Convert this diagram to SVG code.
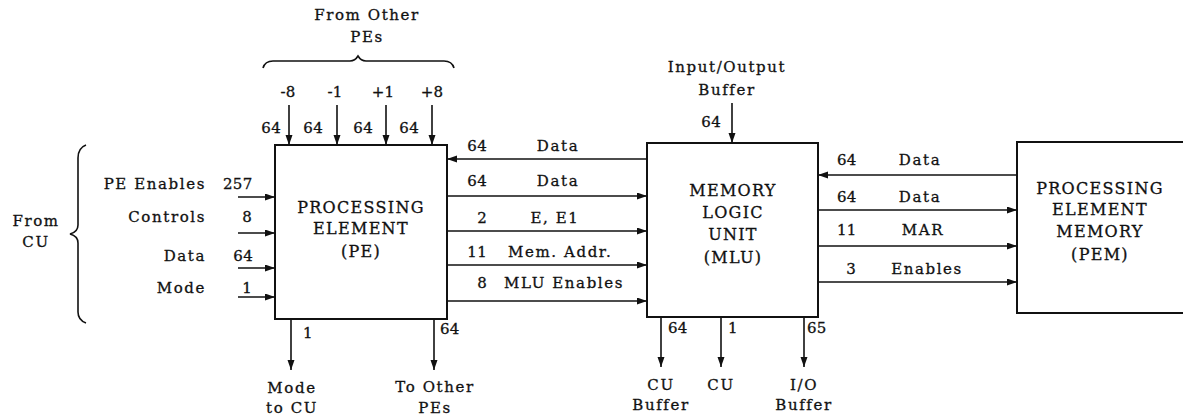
<svg xmlns="http://www.w3.org/2000/svg" width="1183" height="418" viewBox="0 0 1183 418">
<style>
text{font-family:"DejaVu Serif","Liberation Serif",serif;fill:#111;stroke:#111;stroke-width:0.3px;}
.t{font-size:15px;letter-spacing:1.6px;}
.n{font-size:15px;letter-spacing:0.3px;}
.b{font-size:16px;letter-spacing:1.3px;text-anchor:middle;}
.m{text-anchor:middle;}
.e{text-anchor:end;}
.box{fill:#fff;stroke:#111;stroke-width:2;}
.c{stroke:#111;stroke-width:1.6;fill:none;marker-end:url(#ah);}
.br{stroke:#111;stroke-width:1.6;fill:none;}
</style>
<defs>
<marker id="ah" markerUnits="userSpaceOnUse" markerWidth="11" markerHeight="8" refX="10" refY="3.5" orient="auto">
<path d="M0,0 L10,3.5 L0,7 z" fill="#111"/>
</marker>
</defs>
<rect width="1183" height="418" fill="#fff"/>

<g id="pe">
<rect class="box" x="275" y="145" width="172" height="174"/>
<text class="b" x="361" y="213">PROCESSING</text>
<text class="b" x="361" y="234">ELEMENT</text>
<text class="b" x="361" y="257">(PE)</text>
</g>

<g id="mlu">
<rect class="box" x="647" y="143" width="171" height="174"/>
<text class="b" x="733" y="196">MEMORY</text>
<text class="b" x="733" y="218">LOGIC</text>
<text class="b" x="733" y="240">UNIT</text>
<text class="b" x="733" y="263">(MLU)</text>
</g>

<g id="pem">
<rect class="box" x="1017" y="142" width="180" height="171"/>
<text class="b" x="1100" y="194">PROCESSING</text>
<text class="b" x="1100" y="215">ELEMENT</text>
<text class="b" x="1100" y="237">MEMORY</text>
<text class="b" x="1100" y="260">(PEM)</text>
</g>

<g id="braces">
<path class="br" d="M263,68 Q265,61 273,61 L350,61 Q355,61 358,56 Q361,61 366,61 L444,61 Q452,61 454,68"/>
<path class="br" d="M86,145 Q78,148 78,158 L78,225 Q78,232 70,234 Q78,236 78,243 L78,312 Q78,320 86,323"/>
</g>

<g id="connectors">
<line class="c" x1="289" y1="105" x2="289" y2="145"/>
<line class="c" x1="337" y1="105" x2="337" y2="145"/>
<line class="c" x1="386" y1="105" x2="386" y2="145"/>
<line class="c" x1="432" y1="105" x2="432" y2="145"/>
<line class="c" x1="732" y1="103" x2="732" y2="143"/>
<line class="c" x1="238" y1="197" x2="275" y2="197"/>
<line class="c" x1="238" y1="233" x2="275" y2="233"/>
<line class="c" x1="238" y1="268" x2="275" y2="268"/>
<line class="c" x1="238" y1="297" x2="275" y2="297"/>
<line class="c" x1="647" y1="159" x2="447" y2="159"/>
<line class="c" x1="447" y1="196" x2="647" y2="196"/>
<line class="c" x1="447" y1="231" x2="647" y2="231"/>
<line class="c" x1="447" y1="265" x2="647" y2="265"/>
<line class="c" x1="447" y1="301" x2="647" y2="301"/>
<line class="c" x1="1017" y1="175" x2="818" y2="175"/>
<line class="c" x1="818" y1="210" x2="1017" y2="210"/>
<line class="c" x1="818" y1="246" x2="1017" y2="246"/>
<line class="c" x1="818" y1="282" x2="1017" y2="282"/>
<line class="c" x1="291" y1="319" x2="291" y2="370"/>
<line class="c" x1="434" y1="319" x2="434" y2="370"/>
<line class="c" x1="661" y1="317" x2="661" y2="367"/>
<line class="c" x1="721" y1="317" x2="721" y2="367"/>
<line class="c" x1="804" y1="317" x2="804" y2="367"/>
</g>

<g id="labels">
<text class="t m" x="367" y="20">From Other</text>
<text class="t m" x="367" y="42">PEs</text>
<text class="n m" x="288" y="97">-8</text>
<text class="n m" x="335" y="97">-1</text>
<text class="n m" x="383" y="97">+1</text>
<text class="n m" x="432" y="97">+8</text>
<text class="n e" x="281" y="133">64</text>
<text class="n e" x="323" y="133">64</text>
<text class="n e" x="373" y="133">64</text>
<text class="n e" x="419" y="133">64</text>
<text class="t m" x="727" y="72">Input/Output</text>
<text class="t m" x="727" y="95">Buffer</text>
<text class="n e" x="721" y="127">64</text>

<text class="t e" x="206" y="189">PE Enables</text>
<text class="n" x="223" y="189">257</text>
<text class="t e" x="206" y="222">Controls</text>
<text class="n e" x="252" y="222">8</text>
<text class="t e" x="206" y="261">Data</text>
<text class="n e" x="253" y="261">64</text>
<text class="t e" x="206" y="293">Mode</text>
<text class="n e" x="252" y="293">1</text>
<text class="t m" x="36" y="226">From</text>
<text class="t m" x="36" y="247">CU</text>

<text class="n e" x="487" y="151">64</text>
<text class="t m" x="558" y="151">Data</text>
<text class="n e" x="487" y="186">64</text>
<text class="t m" x="558" y="186">Data</text>
<text class="n e" x="487" y="223">2</text>
<text class="t m" x="555" y="223">E, E1</text>
<text class="n e" x="487" y="257">11</text>
<text class="t" x="508" y="257">Mem. Addr.</text>
<text class="n e" x="487" y="288">8</text>
<text class="t" x="504" y="288">MLU Enables</text>

<text class="n" x="837" y="165">64</text>
<text class="t m" x="920" y="165">Data</text>
<text class="n" x="837" y="202">64</text>
<text class="t m" x="920" y="202">Data</text>
<text class="n" x="837" y="235">11</text>
<text class="t m" x="923" y="235">MAR</text>
<text class="n e" x="856" y="274">3</text>
<text class="t m" x="927" y="274">Enables</text>

<text class="n" x="303" y="338">1</text>
<text class="n" x="440" y="334">64</text>
<text class="t m" x="292" y="393">Mode</text>
<text class="t m" x="292" y="413">to CU</text>
<text class="t m" x="435" y="392">To Other</text>
<text class="t m" x="435" y="413">PEs</text>

<text class="n" x="668" y="333">64</text>
<text class="n" x="728" y="333">1</text>
<text class="n" x="807" y="333">65</text>
<text class="t m" x="661" y="390">CU</text>
<text class="t m" x="661" y="410">Buffer</text>
<text class="t m" x="721" y="390">CU</text>
<text class="t m" x="804" y="390">I/O</text>
<text class="t m" x="804" y="410">Buffer</text>
</g>
</svg>
